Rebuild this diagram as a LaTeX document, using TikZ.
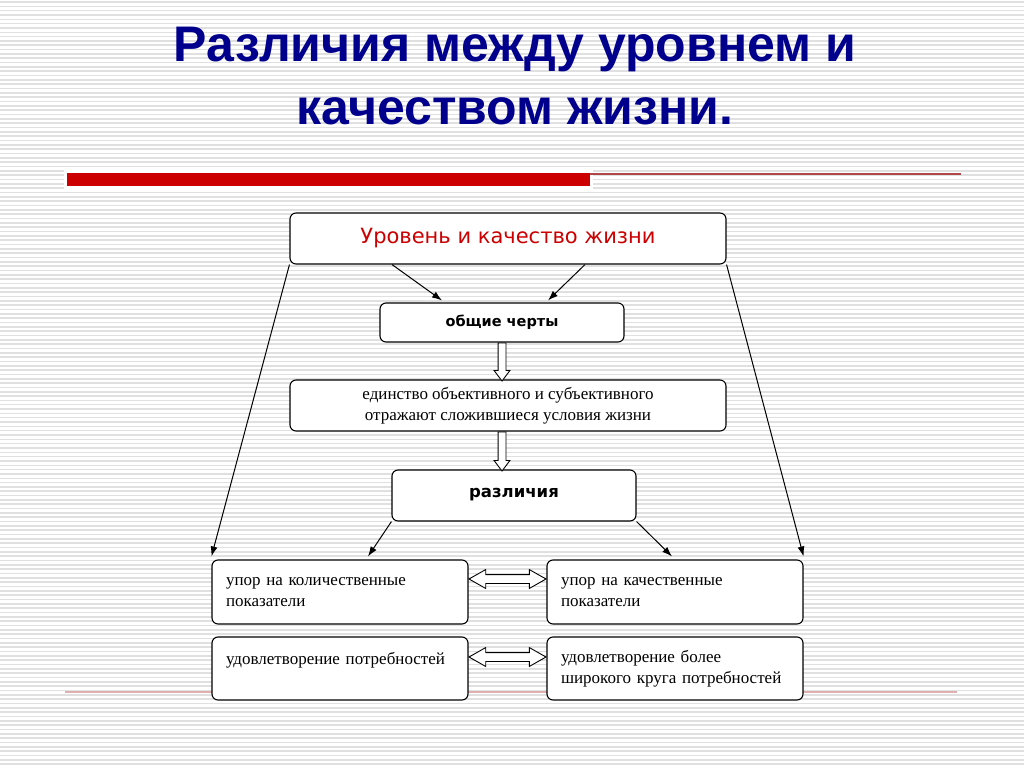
\documentclass[tikz,border=0pt]{standalone}
\usepackage{fontspec}
\setmainfont{Liberation Serif}
\newfontfamily\titlefont{Liberation Sans}
\newfontfamily\boxfont{DejaVu Sans}
\usetikzlibrary{arrows.meta, shapes.arrows, calc}

\definecolor{titleblue}{RGB}{0,0,140}
\definecolor{barred}{RGB}{204,0,0}
\definecolor{thinred}{RGB}{176,70,70}
\definecolor{pinkline}{RGB}{222,176,176}
\definecolor{stripe}{RGB}{224,224,224}

\tikzset{
  box/.style={draw, rounded corners=6pt, fill=white, line width=1.1pt},
  arr/.style={-{Latex[length=10pt,width=7pt]}, line width=1pt},
  hollowdown/.style={single arrow, draw, fill=white, line width=0.9pt, inner xsep=0pt, inner ysep=3.5pt,
    single arrow head extend=4pt, single arrow tip angle=74, rotate=-90, anchor=tail},
  hollowboth/.style={double arrow, draw, fill=white, line width=0.9pt, inner xsep=0pt, inner ysep=4pt,
    double arrow head extend=5pt, double arrow tip angle=59},
  titletext/.style={text=titleblue, anchor=base, font=\titlefont\bfseries\fontsize{50}{60}\selectfont},
  serif/.style={font=\fontsize{17}{21}\selectfont},
}

\begin{document}
\begin{tikzpicture}[x=1pt,y=-1pt]
		\useasboundingbox (0,0) rectangle (1024,767);
		\fill[white] (0,0) rectangle (1024,767);
		\foreach \i in {0,...,176} {
			\draw[stripe, line width=1.6pt] (0,2+\i*4.33) -- (1024,2+\i*4.33);
		}

		% title and bars
		\node[titletext] (title1) at (515,62) {Различия между уровнем и};
		\node[titletext] (title2) at (515,125) {качеством жизни.};
		\fill[white] (64,170) rectangle (593,189);
		\fill[barred] (67,173) rectangle (590,186);
		\draw[thinred, line width=2pt] (590,174) -- (961,174);
		\draw[pinkline, line width=2pt] (65,692) -- (957,692);

		% boxes
		\node[box, minimum width=436pt, minimum height=51pt, text=barred, font=\boxfont\fontsize{21}{24}\selectfont] (lvl) at (508,238.5) {\raisebox{4pt}{Уровень и качество жизни}};
		\node[box, minimum width=244pt, minimum height=39pt, font=\boxfont\bfseries\fontsize{14.5}{17}\selectfont] (obsh) at (502,322.5) {общие черты};
		\node[box, serif, minimum width=436pt, minimum height=51pt, align=center] (edin) at (508,405.5) {единство объективного и субъективного\\отражают сложившиеся условия жизни};
		\node[box, minimum width=244pt, minimum height=51pt, font=\boxfont\bfseries\fontsize{16.5}{19}\selectfont] (razl) at (514,495.5) {\raisebox{5pt}{различия}};

		\node[box, serif, minimum width=256pt, minimum height=64pt, inner xsep=14pt, text width=228pt, align=left] (kolich) at (340,592) {упор на количественные\\показатели};
		\node[box, serif, minimum width=256pt, minimum height=64pt, inner xsep=14pt, text width=228pt, align=left] (kach) at (675,592) {упор на качественные\\показатели};
		\node[box, serif, minimum width=256pt, minimum height=63pt, inner xsep=14pt, text width=228pt, align=left] (potr) at (340,668.5) {удовлетворение потребностей\\\mbox{}};
		\node[box, serif, minimum width=256pt, minimum height=63pt, inner xsep=14pt, text width=228pt, align=left] (shir) at (675,668.5) {удовлетворение более\\широкого круга потребностей};

		% connectors
		\draw[arr] ([xshift=-116pt]lvl.south) -- ([xshift=-60pt,yshift=2pt]obsh.north);
		\draw[arr] ([xshift=77pt]lvl.south) -- ([xshift=46pt,yshift=2pt]obsh.north);
		\draw[arr] (lvl.south west) -- ([yshift=3pt]kolich.north west);
		\draw[arr] (lvl.south east) -- ([yshift=3pt]kach.north east);
		\draw[arr] (razl.south west) -- ([xshift=28pt,yshift=3pt]kolich.north);
		\draw[arr] (razl.south east) -- ([xshift=-3pt,yshift=3pt]kach.north);

		\node[hollowdown, minimum height=38pt] (ha1) at (obsh.south) {};
		\node[hollowdown, minimum height=39pt] (ha2) at (obsh.south |- edin.south) {};
		\node[hollowboth, minimum height=77pt] (hb1) at ([yshift=13pt]$(kolich.east)!0.5!(kach.west)$) {};
		\node[hollowboth, minimum height=77pt] (hb2) at ([yshift=11.5pt]$(potr.east)!0.5!(shir.west)$) {};
	\end{tikzpicture}
\end{document}
